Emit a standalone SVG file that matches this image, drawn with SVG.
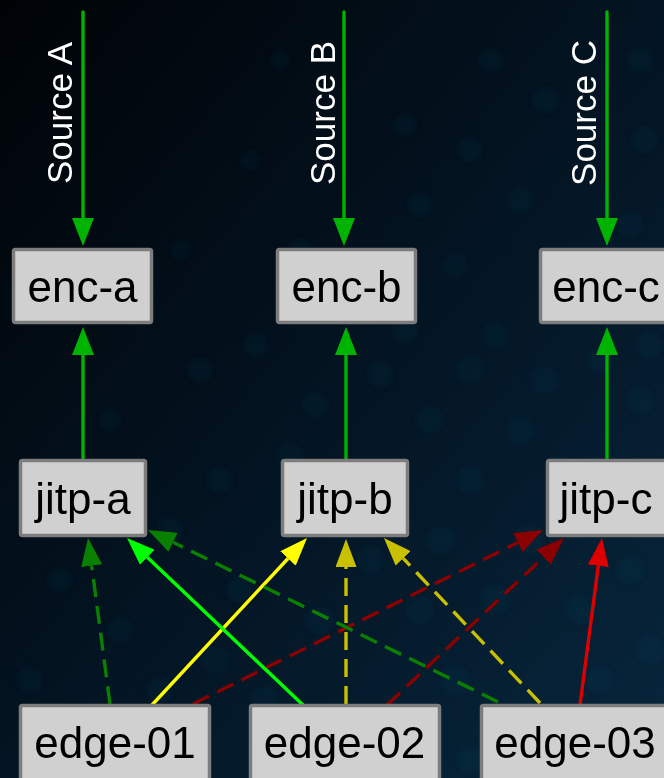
<svg xmlns="http://www.w3.org/2000/svg" width="664" height="778" viewBox="0 0 664 778">
  <defs>
    <linearGradient id="bg" x1="0" y1="0" x2="1" y2="1">
      <stop offset="0" stop-color="#000306"/>
      <stop offset="0.45" stop-color="#03121f"/>
      <stop offset="1" stop-color="#07263d"/>
    </linearGradient>
    <filter id="soft" x="-50%" y="-50%" width="200%" height="200%">
      <feGaussianBlur stdDeviation="2.5"/>
    </filter>
    <marker id="m-src" markerUnits="userSpaceOnUse" markerWidth="28" markerHeight="22" viewBox="0 0 28 22" refX="0" refY="11" orient="auto"><path d="M0,0 L28,11 L0,22 Z" fill="#00b300"/></marker>
    <marker id="m-dgreen" markerUnits="userSpaceOnUse" markerWidth="28" markerHeight="21" viewBox="0 0 28 21" refX="0" refY="10.5" orient="auto"><path d="M0,0 L28,10.5 L0,21 Z" fill="#0a8000"/></marker>
    <marker id="m-lime" markerUnits="userSpaceOnUse" markerWidth="28" markerHeight="21" viewBox="0 0 28 21" refX="0" refY="10.5" orient="auto"><path d="M0,0 L28,10.5 L0,21 Z" fill="#00ff00"/></marker>
    <marker id="m-yellow" markerUnits="userSpaceOnUse" markerWidth="28" markerHeight="21" viewBox="0 0 28 21" refX="0" refY="10.5" orient="auto"><path d="M0,0 L28,10.5 L0,21 Z" fill="#ffff00"/></marker>
    <marker id="m-olive" markerUnits="userSpaceOnUse" markerWidth="28" markerHeight="21" viewBox="0 0 28 21" refX="0" refY="10.5" orient="auto"><path d="M0,0 L28,10.5 L0,21 Z" fill="#c8c000"/></marker>
    <marker id="m-dred" markerUnits="userSpaceOnUse" markerWidth="28" markerHeight="21" viewBox="0 0 28 21" refX="0" refY="10.5" orient="auto"><path d="M0,0 L28,10.5 L0,21 Z" fill="#8b0000"/></marker>
    <marker id="m-red" markerUnits="userSpaceOnUse" markerWidth="28" markerHeight="21" viewBox="0 0 28 21" refX="0" refY="10.5" orient="auto"><path d="M0,0 L28,10.5 L0,21 Z" fill="#dd0000"/></marker>
  </defs>
  <style>
    .box { fill: #d0d0d0; stroke: #7d7d7d; stroke-width: 3.5; }
    .lbl { font-family: "Liberation Sans", Arial, sans-serif; font-size: 44px; fill: #000; text-anchor: middle; }
    .src { font-family: "Liberation Sans", Arial, sans-serif; font-size: 35px; fill: #ffffff; text-anchor: middle; }
    .e { fill: none; stroke-width: 3.4; }
    .dash { stroke-dasharray: 18 9; }
    .bokeh circle { fill: #1d4a6c; opacity: 0.09; }
  </style>

  <!-- backdrop -->
  <rect width="664" height="778" fill="url(#bg)"/>
  <g class="bokeh" filter="url(#soft)">
    <circle cx="200" cy="370" r="12"/><circle cx="255" cy="345" r="12"/><circle cx="315" cy="405" r="13"/>
    <circle cx="290" cy="455" r="13"/><circle cx="380" cy="375" r="13"/><circle cx="405" cy="330" r="13"/>
    <circle cx="430" cy="420" r="14"/><circle cx="470" cy="370" r="14"/><circle cx="495" cy="335" r="13"/>
    <circle cx="520" cy="430" r="14"/><circle cx="545" cy="380" r="14"/><circle cx="600" cy="360" r="13"/>
    <circle cx="640" cy="400" r="14"/><circle cx="650" cy="345" r="13"/><circle cx="560" cy="300" r="13"/>
    <circle cx="455" cy="265" r="12"/><circle cx="520" cy="200" r="13"/><circle cx="470" cy="150" r="12"/>
    <circle cx="545" cy="100" r="13"/><circle cx="490" cy="60" r="12"/><circle cx="640" cy="60" r="13"/>
    <circle cx="645" cy="140" r="13"/><circle cx="630" cy="225" r="13"/><circle cx="405" cy="125" r="11"/>
    <circle cx="420" cy="205" r="12"/><circle cx="395" cy="280" r="11"/><circle cx="300" cy="250" r="11"/>
    <circle cx="250" cy="160" r="10"/><circle cx="280" cy="60" r="10"/><circle cx="180" cy="250" r="10"/>
    <circle cx="220" cy="480" r="13"/><circle cx="170" cy="530" r="13"/><circle cx="240" cy="590" r="13"/>
    <circle cx="215" cy="660" r="14"/><circle cx="120" cy="630" r="13"/><circle cx="60" cy="580" r="12"/>
    <circle cx="30" cy="680" r="13"/><circle cx="70" cy="740" r="13"/><circle cx="160" cy="690" r="13"/>
    <circle cx="265" cy="700" r="14"/><circle cx="320" cy="620" r="14"/><circle cx="370" cy="560" r="14"/>
    <circle cx="420" cy="610" r="14"/><circle cx="455" cy="680" r="15"/><circle cx="440" cy="540" r="14"/>
    <circle cx="495" cy="600" r="15"/><circle cx="530" cy="540" r="15"/><circle cx="580" cy="610" r="15"/>
    <circle cx="630" cy="570" r="15"/><circle cx="650" cy="650" r="15"/><circle cx="600" cy="680" r="14"/>
    <circle cx="560" cy="470" r="14"/><circle cx="470" cy="480" r="14"/><circle cx="380" cy="480" r="13"/>
    <circle cx="30" cy="520" r="11"/><circle cx="110" cy="420" r="11"/><circle cx="345" cy="750" r="14"/>
    <circle cx="470" cy="760" r="14"/>
  </g>

  <!-- connectors -->
  <g id="connectors">
    <!-- incoming sources -->
    <line class="e" stroke="#00b300" stroke-linecap="round" x1="83" y1="12" x2="83" y2="218" marker-end="url(#m-src)"/>
    <line class="e" stroke="#00b300" stroke-linecap="round" x1="344" y1="12" x2="344" y2="218" marker-end="url(#m-src)"/>
    <line class="e" stroke="#00b300" stroke-linecap="round" x1="607" y1="12" x2="607" y2="218" marker-end="url(#m-src)"/>
    <text class="src" transform="translate(72,113) rotate(-90)">Source A</text>
    <text class="src" transform="translate(335,113) rotate(-90)">Source B</text>
    <text class="src" transform="translate(596,113) rotate(-90)">Source C</text>

    <!-- jitp to enc -->
    <line class="e" stroke="#00b300" x1="83" y1="459" x2="83" y2="355" marker-end="url(#m-src)"/>
    <line class="e" stroke="#00b300" x1="346" y1="459" x2="346" y2="355" marker-end="url(#m-src)"/>
    <line class="e" stroke="#00b300" x1="607" y1="459" x2="607" y2="355" marker-end="url(#m-src)"/>

    <!-- edge-01 -->
    <line class="e dash" stroke="#0a8000" x1="110" y1="704" x2="91.7" y2="565.7" marker-end="url(#m-dgreen)"/>
    <line class="e" stroke="#ffff00" x1="152" y1="705" x2="288" y2="558.5" marker-end="url(#m-yellow)"/>
    <line class="e dash" stroke="#8b0000" x1="193" y1="704" x2="517.9" y2="542.5" marker-end="url(#m-dred)"/>

    <!-- edge-02 -->
    <line class="e" stroke="#00ff00" x1="303" y1="705" x2="147.3" y2="557.3" marker-end="url(#m-lime)"/>
    <line class="e dash" stroke="#c8c000" x1="346" y1="704" x2="346" y2="567" marker-end="url(#m-olive)"/>
    <line class="e dash" stroke="#8b0000" x1="387" y1="705" x2="543.6" y2="557.2" marker-end="url(#m-dred)"/>

    <!-- edge-03 -->
    <line class="e dash" stroke="#0a8000" x1="498" y1="702" x2="173.1" y2="542.3" marker-end="url(#m-dgreen)"/>
    <line class="e dash" stroke="#c8c000" x1="540" y1="703" x2="403.2" y2="558.4" marker-end="url(#m-olive)"/>
    <line class="e" stroke="#dd0000" x1="580" y1="705" x2="598.3" y2="565.8" marker-end="url(#m-red)"/>
  </g>

  <!-- encoders -->
  <g id="enc-a"><rect class="box" x="13.5" y="249.5" width="138" height="73" rx="2"/><text class="lbl" x="82.5" y="302">enc-a</text></g>
  <g id="enc-b"><rect class="box" x="277.5" y="249.5" width="138" height="73" rx="2"/><text class="lbl" x="346.5" y="302">enc-b</text></g>
  <g id="enc-c"><rect class="box" x="540.5" y="249.5" width="138" height="73" rx="2"/><text class="lbl" x="606" y="302">enc-c</text></g>

  <!-- packagers -->
  <g id="jitp-a"><rect class="box" x="20.5" y="460.5" width="125" height="75" rx="2"/><text class="lbl" x="83" y="514">jitp-a</text></g>
  <g id="jitp-b"><rect class="box" x="282.5" y="460.5" width="125" height="75" rx="2"/><text class="lbl" x="345" y="514">jitp-b</text></g>
  <g id="jitp-c"><rect class="box" x="547.5" y="460.5" width="125" height="75" rx="2"/><text class="lbl" x="606" y="514">jitp-c</text></g>

  <!-- edge servers -->
  <g id="edge-01"><rect class="box" x="20.5" y="705.5" width="189" height="75" rx="2"/><text class="lbl" x="115" y="758">edge-01</text></g>
  <g id="edge-02"><rect class="box" x="250.5" y="705.5" width="189" height="75" rx="2"/><text class="lbl" x="344.5" y="758">edge-02</text></g>
  <g id="edge-03"><rect class="box" x="481.5" y="705.5" width="189" height="75" rx="2"/><text class="lbl" x="575" y="758">edge-03</text></g>
</svg>
